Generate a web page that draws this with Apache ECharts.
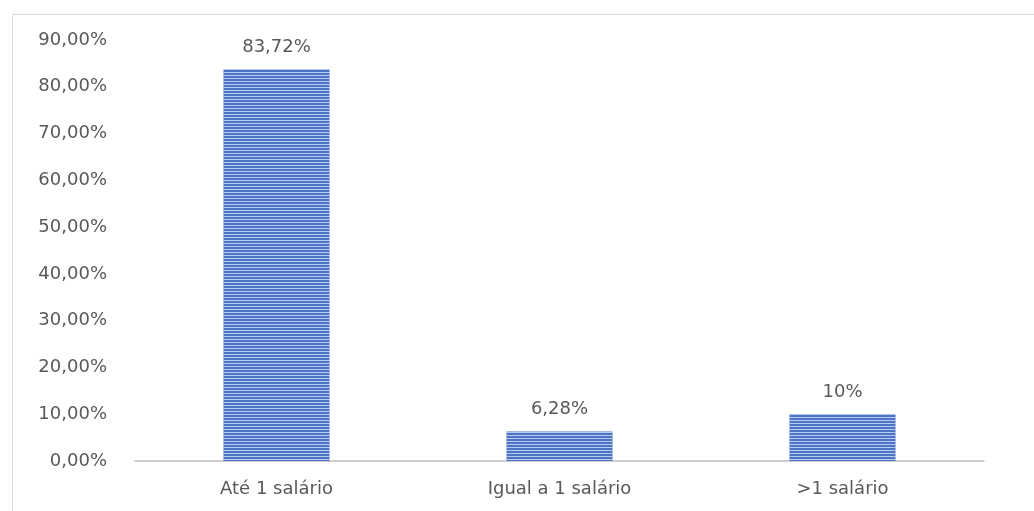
<!DOCTYPE html>
<html>
<head>
<meta charset="utf-8">
<script src="https://cdn.jsdelivr.net/npm/echarts@6/dist/echarts.min.js"></script>
<style>html,body{margin:0;padding:0;background:#fff;}#c{width:1034px;height:511px;}</style>
</head>
<body>
<div id="c"></div>
<script>
const categories = ['Até 1 salário', 'Igual a 1 salário', '>1 salário'];
const values = [83.72, 6.28, 10];
const valueLabels = ['83,72%', '6,28%', '10%'];
const yTicks = ['0,00%','10,00%','20,00%','30,00%','40,00%','50,00%','60,00%','70,00%','80,00%','90,00%'];

const FONT = "'DejaVu Sans', Verdana, sans-serif";
const chart = echarts.init(document.getElementById('c'), null, {renderer: 'canvas'});
chart.setOption({
  backgroundColor: '#ffffff',
  animation: false,
  graphic: [{
    type: 'rect', silent: true,
    shape: {x: 12.5, y: 14.5, width: 1040, height: 520},
    style: {fill: 'none', stroke: '#d9d9d9', lineWidth: 1}
  }],
  grid: {left: 135, right: 50, top: 40, bottom: 50, containLabel: false},
  xAxis: {
    type: 'category',
    data: categories,
    axisLine: {lineStyle: {color: '#bfbfbf', width: 1.5}},
    axisTick: {show: false},
    axisLabel: {color: '#595959', fontFamily: FONT, fontSize: 18, margin: 19}
  },
  yAxis: {
    type: 'value', min: 0, max: 90, interval: 10,
    axisLine: {show: false},
    axisTick: {show: false},
    splitLine: {show: false},
    axisLabel: {
      color: '#595959', fontFamily: FONT, fontSize: 18, margin: 28,
      formatter: function (v) { return yTicks[Math.round(v / 10)]; }
    }
  },
  series: [{
    type: 'bar',
    data: values,
    barWidth: 106,
    itemStyle: {
      color: '#4c73c4',
      decal: {
        symbol: 'rect',
        dashArrayX: [1, 0],
        dashArrayY: [1, 2],
        rotation: 0,
        color: 'rgba(205,220,248,0.85)'
      }
    },
    label: {
      show: true, position: 'top', distance: 13,
      color: '#595959', fontFamily: FONT, fontSize: 18,
      formatter: function (p) { return valueLabels[p.dataIndex]; }
    }
  }]
});
</script>
</body>
</html>
